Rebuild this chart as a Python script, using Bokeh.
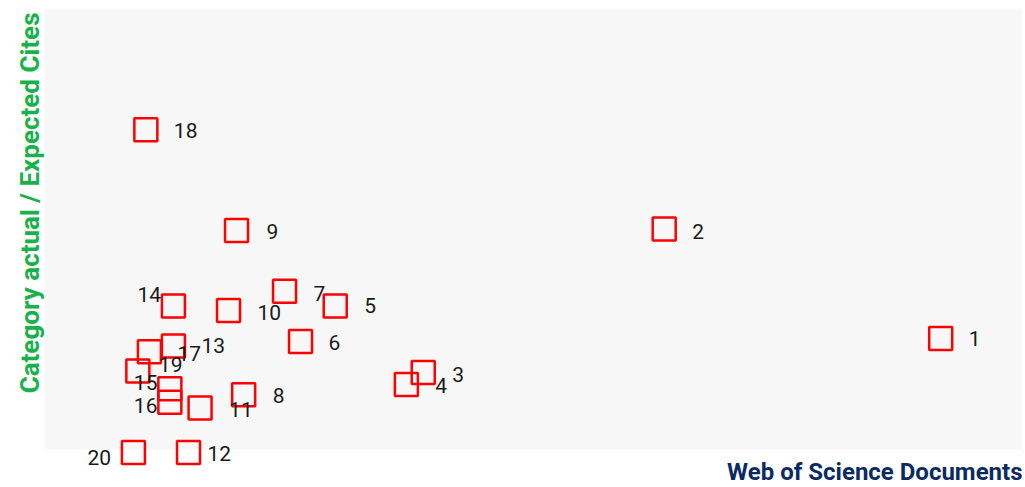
from bokeh.plotting import figure
from bokeh.models import ColumnDataSource, Range1d, Title, Label, BoxAnnotation
from bokeh.core.properties import value
from bokeh.embed import file_html
from bokeh.resources import INLINE

# --- data ---
ids = ["1", "2", "3", "4", "5", "6", "7", "8", "9", "10",
       "11", "12", "13", "14", "15", "16", "17", "18", "19", "20"]
documents = [100.8, 69.7, 42.6, 40.7, 32.7, 28.8, 27.0, 22.4, 21.6, 20.7,
             17.5, 16.2, 14.5, 14.5, 10.5, 14.1, 11.8, 11.4, 14.1, 10.0]
cites_ratio = [0.77, 1.51, 0.54, 0.46, 0.99, 0.75, 1.09, 0.39, 1.50, 0.96,
               0.30, 0.00, 0.72, 0.99, 0.55, 0.34, 0.68, 2.18, 0.43, 0.00]

# label placement (screen px offsets from each marker, repelled layout)
label_dx = [28, 28, 29, 29, 29, 28, 29, 29, 30, 29,
            29, 19, 28, -36, -4, -36, 28, 28, -11, -46]
label_dy = [0, 2, 2, 1, 0, 1, 2, 1, 1, 2,
            1, 1, 0, -11, 11, 3, 2, 1, -24, 5]

x_label = "Web of Science Documents"
y_label = "Category actual / Expected Cites"

src = ColumnDataSource(dict(x=documents, y=cites_ratio, label=ids,
                            dx=label_dx, dy=label_dy))

Y_MIN_SHOWN = 0.02   # lower edge of the shaded plotting area

p = figure(frame_width=978, frame_height=478, output_backend="svg",
           toolbar_location=None,
           x_axis_location=None, y_axis_location=None,
           x_range=Range1d(0, 110.0), y_range=Range1d(-0.23, 3.0),
           min_border_left=44, min_border_right=0, min_border_top=8,
           min_border_bottom=0)
p.grid.visible = False
p.outline_line_color = None
p.background_fill_color = "white"
p.border_fill_color = "white"

p.add_layout(BoxAnnotation(bottom=Y_MIN_SHOWN, fill_color="#f7f7f7",
                           fill_alpha=1.0, line_color=None, level="underlay"))

p.scatter("x", "y", source=src, marker="square", size=23,
          fill_color=None, line_color="#ff0000", line_width=2.5)
p.text("x", "y", text="label", source=src, x_offset="dx", y_offset="dy",
       text_align="left", text_baseline="middle", text_color="#1a1a1a",
       text_font=value("Roboto"), text_font_size="21px")

p.add_layout(Label(x=978, y=15, x_units="screen", y_units="screen",
                   text=x_label, text_align="right", text_baseline="middle",
                   text_font="Roboto", text_font_size="24px",
                   text_font_style="bold", text_color="#0b2a63"))
p.add_layout(Title(text=y_label, align="right", text_font="Roboto",
                   text_font_size="26px", text_font_style="bold",
                   text_color="#19b14c", standoff=0, offset=4), "left")

open("out.html", "w").write(file_html(p, INLINE))
